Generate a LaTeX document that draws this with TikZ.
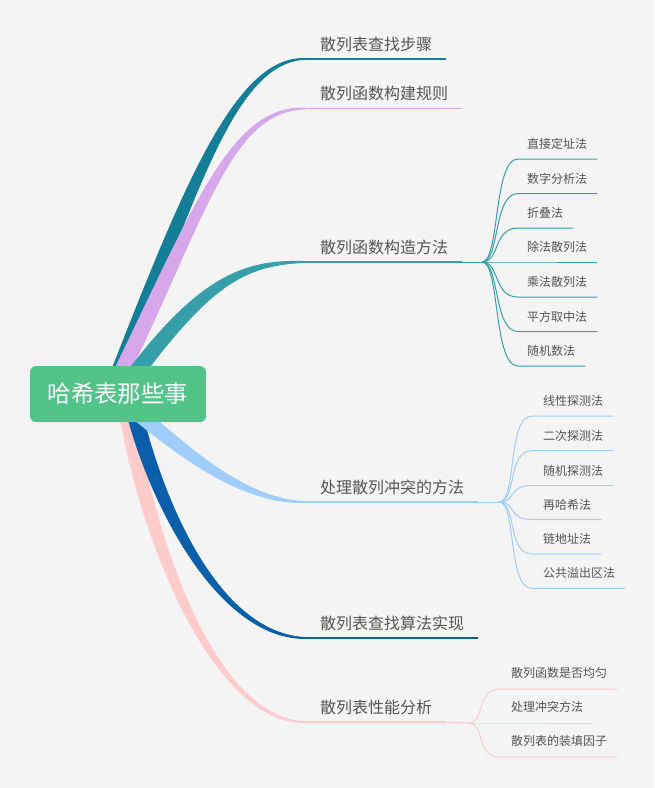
\documentclass[tikz,border=0pt]{standalone}
\usepackage{fontspec}
\setmainfont{Noto Sans CJK SC}
\usetikzlibrary{calc}
\definecolor{bg}{HTML}{F4F4F4}
\definecolor{rootgreen}{HTML}{52C48A}
\definecolor{cA}{HTML}{137E96}
\definecolor{cB}{HTML}{D6A7EB}
\definecolor{cC}{HTML}{379FA9}
\definecolor{cD}{HTML}{9FCDFD}
\definecolor{cE}{HTML}{0B5EA9}
\definecolor{cF}{HTML}{FFCBCB}
\definecolor{labgray}{HTML}{555555}
\newcommand{\tbranch}[2]{%
  \fill[#2] ($(#1s)!8pt!90:(#1a)$) .. controls ($(#1a)!8pt!-90:(#1s)$) and ($(#1b)+(0,-3.5)$) .. ($(#1e)+(0,-0.9)$)
    -- ($(#1e)+(0,0.9)$) .. controls ($(#1b)+(0,3.5)$) and ($(#1a)!8pt!90:(#1s)$) .. ($(#1s)!8pt!-90:(#1a)$) -- cycle;
}
\tikzset{
  lab/.style={anchor=west, inner sep=0pt, text=labgray, font=\fontsize{16}{16}\selectfont},
  sublab/.style={anchor=west, inner sep=0pt, text=labgray, font=\fontsize{12}{12}\selectfont},
  mainline/.style={line width=1.8pt},
  subline/.style={line width=1pt},
  rootbox/.style={fill=rootgreen, rounded corners=6pt, minimum width=176pt, minimum height=56pt, inner sep=0pt, text=white, font=\fontsize{23.5}{23.5}\selectfont}
}
\begin{document}
\begin{tikzpicture}[x=1pt,y=-1pt]
\fill[bg] (0,0) rectangle (654,788);
\useasboundingbox (0,0) rectangle (654,788);

% branch geometry
\coordinate (b1s) at (112,390); \coordinate (b1a) at (190,190); \coordinate (b1b) at (235,59);    \coordinate (b1e) at (305,59);
\coordinate (b2s) at (113,390); \coordinate (b2a) at (201,210); \coordinate (b2b) at (230,108.5); \coordinate (b2e) at (305,108.5);
\coordinate (b3s) at (120,394); \coordinate (b3a) at (200,284); \coordinate (b3b) at (240,262);   \coordinate (b3e) at (305,262);
\coordinate (b4s) at (118,396); \coordinate (b4a) at (175,445); \coordinate (b4b) at (240,502);   \coordinate (b4e) at (305,502);
\coordinate (b5s) at (130,394); \coordinate (b5a) at (150,490); \coordinate (b5b) at (215,638);   \coordinate (b5e) at (307,638);
\coordinate (b6s) at (124,394); \coordinate (b6a) at (145,540); \coordinate (b6b) at (215,722);   \coordinate (b6e) at (305,722);

\tbranch{b1}{cA}
\tbranch{b2}{cB}
\tbranch{b3}{cC}
\tbranch{b6}{cF}
\tbranch{b5}{cE}
\tbranch{b4}{cD}

% main labels
\node[lab] (t1) at (320,44) {散列表查找步骤};
\node[lab] (t2) at (320,93) {散列函数构建规则};
\node[lab] (t3) at (320,247) {散列函数构造方法};
\node[lab] (t4) at (320,487) {处理散列冲突的方法};
\node[lab] (t5) at (320,623) {散列表查找算法实现};
\node[lab] (t6) at (320,707) {散列表性能分析};

\draw[cA, mainline] (b1e) -- ($(t1.east |- b1e)+(14,0)$);
\draw[cB, mainline] (b2e) -- ($(t2.east |- b2e)+(14,0)$);
\draw[cC, mainline] (b3e) -- ($(t3.east |- b3e)+(14,0)$) coordinate (b3f);
\draw[cD, mainline] (b4e) -- ($(t4.east |- b4e)+(14,0)$) coordinate (b4f);
\draw[cE, mainline] (b5e) -- ($(t5.east |- b5e)+(14,0)$);
\draw[cF, mainline] (b6e) -- ($(t6.east |- b6e)+(14,0)$) coordinate (b6f);

% fan points
\coordinate (fan3) at (482,262);
\coordinate (fan4) at (499,502);
\coordinate (fan6) at (468,723);
\draw[cC, subline] (b3f) -- (fan3);
\draw[cD, subline] (b4f) -- (fan4);
\draw[cF, subline] (b6f) -- (fan6);

% children of branch 3
\foreach \i/\y/\t in {1/159/直接定址法, 2/193.5/数字分析法, 3/228/折叠法, 4/262/除法散列法, 5/297/乘法散列法, 6/331.5/平方取中法, 7/366/随机数法}{
  \node[sublab] (k3\i) at (527,\y-15) {\t};
  \coordinate (ks3\i) at (518,\y);
  \draw[cC, subline] (fan3) .. controls +(18,0) and +(-25,0) .. (ks3\i) -- ($(k3\i.east |- ks3\i)+(10,0)$);
}
% children of branch 4
\foreach \i/\y/\t in {1/416/线性探测法, 2/450.7/二次探测法, 3/485.5/随机探测法, 4/519.5/再哈希法, 5/554/链地址法, 6/588.3/公共溢出区法}{
  \node[sublab] (k4\i) at (543,\y-15) {\t};
  \coordinate (ks4\i) at (532,\y);
  \draw[cD, subline] (fan4) .. controls +(18,0) and +(-25,0) .. (ks4\i) -- ($(k4\i.east |- ks4\i)+(10,0)$);
}
% children of branch 6
\foreach \i/\y/\t in {1/689/散列函数是否均匀, 2/723/处理冲突方法, 3/757/散列表的装填因子}{
  \node[sublab] (k6\i) at (511,\y-16) {\t};
  \coordinate (ks6\i) at (500,\y);
  \draw[cF, subline] (fan6) .. controls +(18,0) and +(-25,0) .. (ks6\i) -- ($(k6\i.east |- ks6\i)+(10,0)$);
}

% root
\node[rootbox] (root) at (118,394) {哈希表那些事};
\end{tikzpicture}
\end{document}
